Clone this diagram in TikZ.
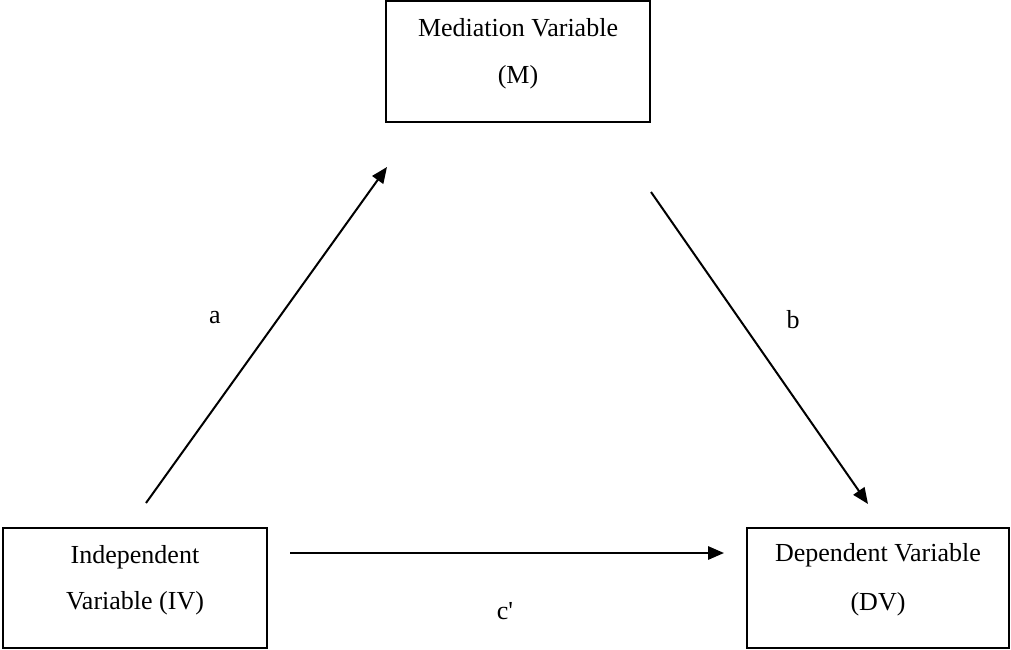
\documentclass[tikz,border=0pt]{standalone}
\usepackage{fontspec}
\setmainfont{Liberation Serif}
\usetikzlibrary{arrows.meta}
\begin{document}
\begin{tikzpicture}[x=0.75pt,y=-0.75pt,
  box/.style={draw,line width=1.2pt,inner sep=0pt},
  lbl/.style={inner sep=0pt,font=\fontsize{19.5}{23}\selectfont},
  arr/.style={line width=1.5pt,-{Triangle[length=12pt,width=10pt]}}]
\useasboundingbox (0,0) rectangle (1011,650);
% boxes
\node[box,minimum width=264*0.75pt,minimum height=121*0.75pt] (M) at (518,61.5) {};
\node[box,minimum width=264*0.75pt,minimum height=120*0.75pt] (IV) at (135,588) {};
\node[box,minimum width=262*0.75pt,minimum height=120*0.75pt] (DV) at (878,588) {};
% texts
\node[lbl] (m1) at (518,28) {Mediation Variable};
\node[lbl] (m2) at (518,77) {(M)};
\node[lbl] (i1) at (135,557) {Independent};
\node[lbl] (i2) at (135,603) {Variable (IV)};
\node[lbl] (d1) at (878,555) {Dependent Variable};
\node[lbl] (d2) at (878,604) {(DV)};
% connector ends
\coordinate (aS) at (146,503);
\coordinate (aE) at (387,167);
\coordinate (bS) at (651,192);
\coordinate (bE) at (868,504);
\coordinate (cS) at (290,553);
\coordinate (cE) at (724,553);
\draw[arr] (aS) -- (aE);
\draw[arr] (bS) -- (bE);
\draw[arr] (cS) -- (cE);
% labels
\node[lbl] (la) at (215,318) {a};
\node[lbl] (lb) at (793,320) {b};
\node[lbl] (lc) at (505,611) {c\textquotesingle};
\end{tikzpicture}
\end{document}
